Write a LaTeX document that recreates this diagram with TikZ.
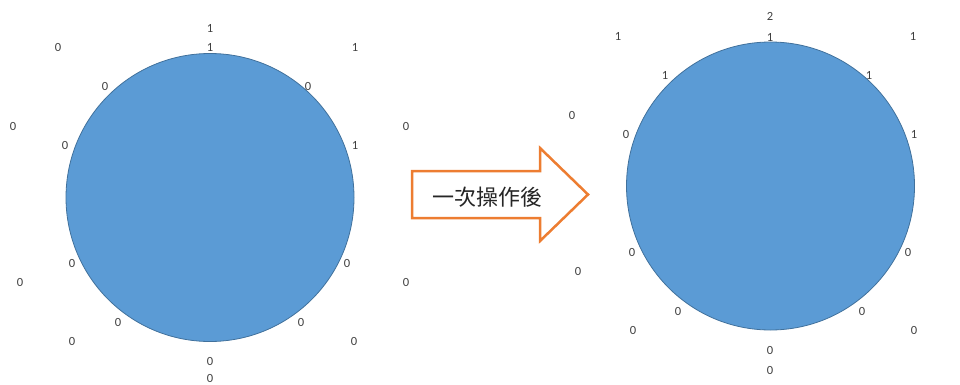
\documentclass[tikz,border=0pt]{standalone}
\usepackage{fontspec}
\setmainfont{Carlito}
\newfontfamily\cjkfont{Noto Sans CJK TC}
\definecolor{circfill}{HTML}{5B9BD5}
\definecolor{circline}{HTML}{41719C}
\definecolor{arroworange}{HTML}{ED7D31}
\definecolor{lbl}{HTML}{404040}
\begin{document}
\begin{tikzpicture}[x=1pt,y=-1pt,
  lab/.style={font=\fontsize{12.5}{14}\selectfont, text=lbl, inner sep=0pt},
  disc/.style={circle, fill=circfill, draw=circline, line width=0.8pt, minimum size=288pt, inner sep=0pt},
  arrowbox/.style={draw=arroworange, line width=2.5pt, fill=white, line join=miter}]
\useasboundingbox (0,0) rectangle (960,385);
% circles
\node[disc] (cL) at (210,197.5) {};
\node[disc] (cR) at (770.5,186) {};
% left labels
\foreach \x/\y/\t [count=\i] in {
  210/47/1, 105/86/0, 308/86/0, 65/145/0, 355/145/1,
  72/263/0, 347/263/0, 118/322/0, 301/322/0, 210/361/0,
  210/28/1, 58/47/0, 355/47/1, 13/126/0, 406/126/0,
  20/282/0, 406/282/0, 72/341/0, 354/341/0, 210/378.5/0}
  \node[lab] (l\i) at (\x,\y) {\t};
% right labels
\foreach \x/\y/\t [count=\i] in {
  770/37/1, 665/75/1, 869/75/1, 626/134/0, 914/134/1,
  632/252/0, 908/252/0, 678/311/0, 862/311/0, 770/350/0,
  770/16/2, 618/36/1, 913/36/1, 572/115/0, 578/271/0,
  633/330/0, 914/330/0, 770/370/0}
  \node[lab] (r\i) at (\x,\y) {\t};
% arrow
\draw[arrowbox] (412,171) -- (540,171) -- (540,148) -- (588,194.5)
  -- (540,241) -- (540,218) -- (412,218) -- cycle;
\node[font=\cjkfont\fontsize{22}{24}\selectfont, text=black!85, inner sep=0pt] (op) at (487,197) {一次操作後};
\end{tikzpicture}
\end{document}
